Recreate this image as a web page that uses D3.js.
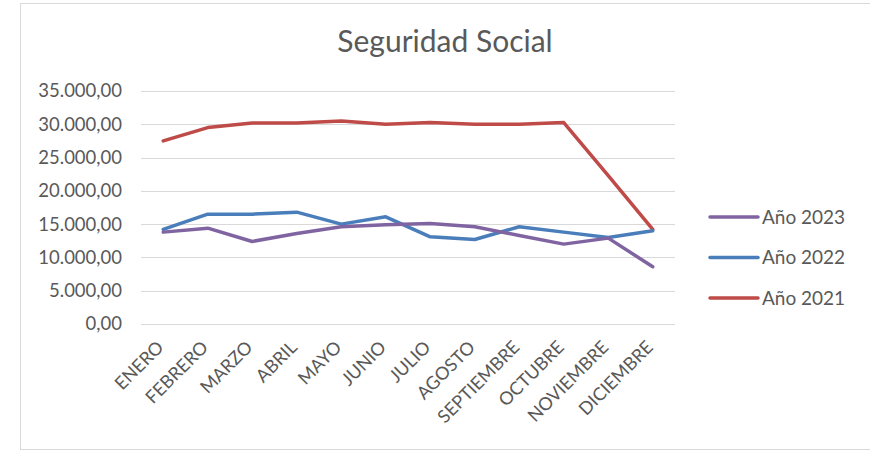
<!DOCTYPE html>
<html>
<head>
<meta charset="utf-8">
<script src="https://cdn.jsdelivr.net/npm/d3@7"></script>
<style>
  body { margin: 0; background: #fff; }
  text { font-family: Lato, "Liberation Sans", sans-serif; fill: #595959; }
</style>
</head>
<body>
<div id="chart"></div>
<script>
const meses = ['ENERO', 'FEBRERO', 'MARZO', 'ABRIL', 'MAYO', 'JUNIO', 'JULIO',
  'AGOSTO', 'SEPTIEMBRE', 'OCTUBRE', 'NOVIEMBRE', 'DICIEMBRE']
const anio2023 = [13800, 14400, 12400, 13600, 14600, 14900, 15100, 14600, 13300, 12000, 12900, 8600]
const anio2022 = [14200, 16500, 16500, 16800, 15000, 16100, 13100, 12700, 14600, 13800, 13000, 14000]
const anio2021 = [27500, 29500, 30200, 30200, 30500, 30000, 30250, 30000, 30000, 30250, 22300, 14200]
const yTicks = [0, 5000, 10000, 15000, 20000, 25000, 30000, 35000]

const series = [
  { name: 'Año 2023', values: anio2023, color: '#8064A2' },
  { name: 'Año 2022', values: anio2022, color: '#4A7EBB' },
  { name: 'Año 2021', values: anio2021, color: '#BE4B48' }
]

const width = 870, height = 452
const margin = { top: 91, right: 195, bottom: 128, left: 141 }

const svg = d3.select('#chart').append('svg')
  .attr('width', width)
  .attr('height', height)

// chart frame
svg.append('rect')
  .attr('x', 20.5).attr('y', 3.5)
  .attr('width', 860).attr('height', 446)
  .attr('fill', 'none')
  .attr('stroke', '#d9d9d9')

svg.append('text')
  .attr('x', 445).attr('y', 52)
  .attr('text-anchor', 'middle')
  .style('font-size', '30px')
  .text('Seguridad Social')

let x = d3.scaleBand()
  .domain(meses)
  .range([margin.left, width - margin.right])

let y = d3.scaleLinear()
  .domain([0, 35000])
  .range([height - margin.bottom, margin.top])

const fmt = d3.formatLocale({ decimal: ',', thousands: '.', grouping: [3], currency: ['', ''] }).format(',.2f')

// gridlines
svg.append('g')
  .selectAll('line')
  .data(yTicks)
  .join('line')
  .attr('x1', margin.left)
  .attr('x2', width - margin.right)
  .attr('y1', d => Math.round(y(d)) + 0.5)
  .attr('y2', d => Math.round(y(d)) + 0.5)
  .attr('stroke', '#d9d9d9')
  .attr('stroke-width', 1)

// y axis labels
let yAxis = svg.append('g')
  .attr('transform', `translate(${margin.left - 19},0)`)
  .call(d3.axisLeft(y).tickValues(yTicks).tickFormat(fmt).tickSize(0).tickPadding(0))
yAxis.select('.domain').remove()
yAxis.selectAll('text')
  .style('font-size', '18.5px')
  .style('font-family', 'Lato, sans-serif')
  .attr('fill', '#595959')

// x axis labels
let xAxis = svg.append('g')
  .attr('transform', `translate(0,${height - margin.bottom})`)
  .call(d3.axisBottom(x).tickSize(0).tickPadding(0))
xAxis.select('.domain').remove()
xAxis.selectAll('text')
  .style('font-size', '18px')
  .style('font-family', 'Lato, sans-serif')
  .attr('fill', '#595959')
  .attr('text-anchor', 'end')
  .attr('dy', '0.35em')
  .attr('transform', 'translate(-3,20) rotate(-45)')

// lines
let line = d3.line()
  .x((d, i) => x(meses[i]) + x.bandwidth() / 2)
  .y(d => y(d))

svg.append('g')
  .selectAll('path')
  .data(series.slice().reverse())
  .join('path')
  .attr('d', d => line(d.values))
  .attr('fill', 'none')
  .attr('stroke', d => d.color)
  .attr('stroke-width', 3.5)
  .attr('stroke-linejoin', 'round')
  .attr('stroke-linecap', 'round')

// legend
let legend = svg.append('g')
  .selectAll('g')
  .data(series)
  .join('g')
  .attr('transform', (d, i) => `translate(710,${217 + i * 40.5})`)

legend.append('line')
  .attr('x1', 0).attr('x2', 48)
  .attr('stroke', d => d.color)
  .attr('stroke-width', 3.5)
  .attr('stroke-linecap', 'round')

legend.append('text')
  .attr('x', 52)
  .attr('dy', '0.35em')
  .style('font-size', '19px')
  .text(d => d.name)
</script>
</body>
</html>
